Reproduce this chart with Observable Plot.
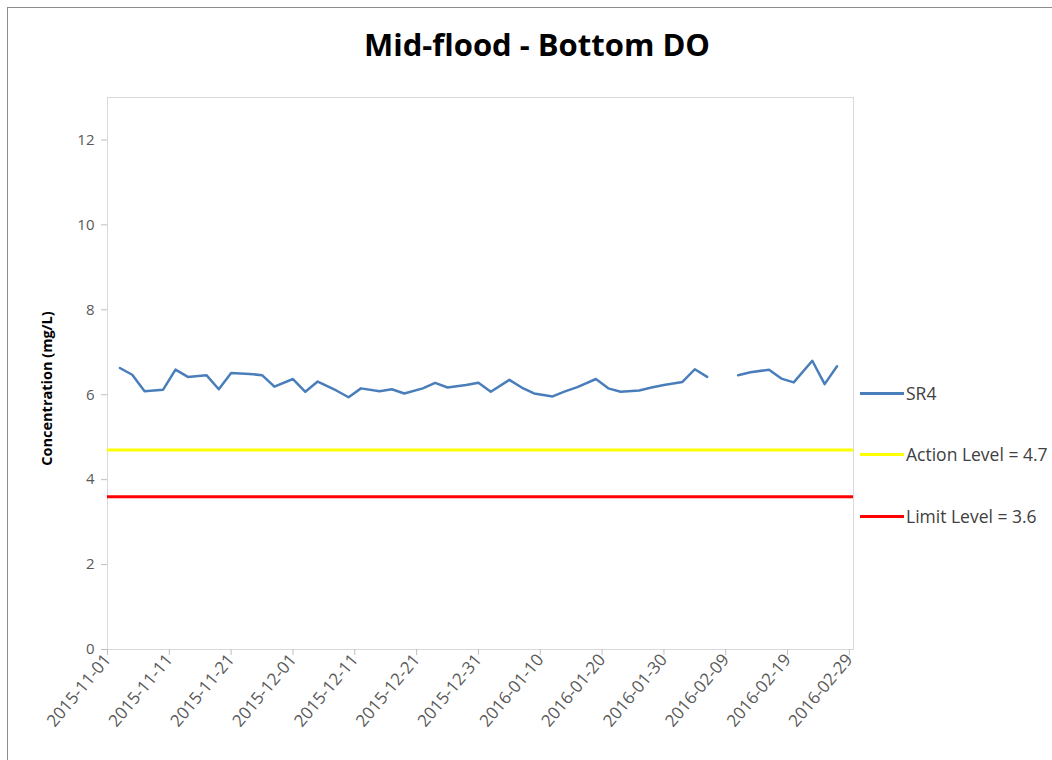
<!DOCTYPE html>
<html>
<head>
<meta charset="utf-8">
<script src="https://cdn.jsdelivr.net/npm/d3@7"></script>
<script src="https://cdn.jsdelivr.net/npm/@observablehq/plot@0.6"></script>
<style>
  html, body { margin: 0; padding: 0; background: #fff; }
  #wrap { position: relative; width: 1052px; height: 760px; overflow: hidden; font-family: "Open Sans", "Noto Sans", sans-serif; }
  #border { position: absolute; left: 7px; top: 7px; width: 1100px; height: 800px; border-left: 1px solid #8c8c8c; border-top: 1px solid #8c8c8c; }
  #title { position: absolute; left: 0; width: 1074px; top: 23px; text-align: center; font-size: 31px; font-weight: bold; color: #000; }
  #chart { position: absolute; left: 0; top: 0; }
  .leg { position: absolute; left: 860px; display: flex; align-items: center; font-size: 17.5px; color: #404040; white-space: nowrap; }
  .leg span.sw { display: inline-block; width: 44px; height: 3px; margin-right: 2px; }
</style>
</head>
<body>
<div id="wrap">
  <div id="border"></div>
  <div id="title">Mid-flood - Bottom DO</div>
  <div id="chart"></div>
  <div id="legend"></div>
</div>
<script>
// Sampling dates (Tue/Thu/Sat), 2016-02-09 not sampled
const dates = [
  "2015-11-03","2015-11-05","2015-11-07","2015-11-10","2015-11-12","2015-11-14","2015-11-17","2015-11-19","2015-11-21","2015-11-24","2015-11-26","2015-11-28",
  "2015-12-01","2015-12-03","2015-12-05","2015-12-08","2015-12-10","2015-12-12","2015-12-15","2015-12-17","2015-12-19","2015-12-22","2015-12-24","2015-12-26","2015-12-29","2015-12-31",
  "2016-01-02","2016-01-05","2016-01-07","2016-01-09","2016-01-12","2016-01-14","2016-01-16","2016-01-19","2016-01-21","2016-01-23","2016-01-26","2016-01-28","2016-01-30",
  "2016-02-02","2016-02-04","2016-02-06","2016-02-09","2016-02-11","2016-02-13","2016-02-16","2016-02-18","2016-02-20","2016-02-23","2016-02-25","2016-02-27"
];
// SR4 bottom DO (mg/L)
const sr4 = [
  6.63,6.47,6.08,6.12,6.59,6.42,6.46,6.13,6.51,6.49,6.46,6.19,
  6.37,6.07,6.31,6.10,5.94,6.15,6.08,6.13,6.03,6.15,6.28,6.17,6.23,6.28,
  6.07,6.35,6.17,6.03,5.96,6.08,6.18,6.37,6.15,6.07,6.10,6.17,6.23,
  6.30,6.60,6.42,null,6.46,6.53,6.59,6.38,6.29,6.80,6.25,6.67
];
const actionLevel = 4.7;
const limitLevel = 3.6;
const yTicks = [0, 2, 4, 6, 8, 10, 12];
const xTickLabels = ["2015-11-01","2015-11-11","2015-11-21","2015-12-01","2015-12-11","2015-12-21","2015-12-31","2016-01-10","2016-01-20","2016-01-30","2016-02-09","2016-02-19","2016-02-29"];
const seriesNames = ["SR4", "Action Level = 4.7", "Limit Level = 3.6"];
const seriesColors = ["#4a7ebb", "#ffff00", "#ff0000"];

const parse = d3.utcParse("%Y-%m-%d");
const data = dates.map((d, i) => ({date: parse(d), value: sr4[i] == null ? NaN : sr4[i]}));
const xTicks = xTickLabels.map(parse);

const plot = Plot.plot({
  width: 1052,
  height: 760,
  marginLeft: 107,
  marginRight: 199,
  marginTop: 97,
  marginBottom: 111,
  style: {fontFamily: "'Open Sans', 'Noto Sans', sans-serif", background: "transparent", overflow: "visible"},
  x: {type: "utc", domain: [parse("2015-11-01"), new Date(Date.UTC(2016, 1, 29, 16))], label: null},
  y: {domain: [0, 13], label: null},
  marks: [
    Plot.frame({stroke: "#d9d9d9"}),
    Plot.axisY({ticks: yTicks, tickSize: 6, tickPadding: 7, stroke: "#bfbfbf", fill: "#595959", fontSize: 15, label: null}),
    Plot.axisX({ticks: xTicks, tickFormat: d3.utcFormat("%Y-%m-%d"), tickRotate: -50, tickSize: 6, tickPadding: 1, stroke: "#bfbfbf", fill: "#595959", fontSize: 17, label: null}),
    Plot.ruleY([limitLevel], {stroke: seriesColors[2], strokeWidth: 3}),
    Plot.ruleY([actionLevel], {stroke: seriesColors[1], strokeWidth: 3}),
    Plot.line(data, {x: "date", y: "value", stroke: seriesColors[0], strokeWidth: 2.5, strokeLinejoin: "round"}),
    Plot.text(["Concentration (mg/L)"], {frameAnchor: "left", textAnchor: "middle", dx: -60, dy: 15, rotate: -90, fontWeight: "bold", fontSize: 14.5, fill: "#000"})
  ]
});
document.getElementById("chart").appendChild(plot);

const legend = document.getElementById("legend");
const legendTops = [381, 442, 504];
seriesNames.forEach((name, i) => {
  const row = document.createElement("div");
  row.className = "leg";
  row.style.top = legendTops[i] + "px";
  row.innerHTML = `<span class="sw" style="background:${seriesColors[i]}"></span><span>${name}</span>`;
  legend.appendChild(row);
});
</script>
</body>
</html>
